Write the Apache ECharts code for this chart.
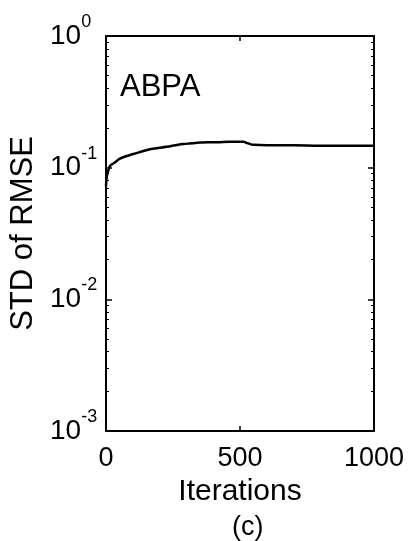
<!DOCTYPE html>
<html>
<head>
<meta charset="utf-8">
<script src="https://cdn.jsdelivr.net/npm/echarts@6/dist/echarts.min.js"></script>
<style>
  html, body { margin: 0; padding: 0; background: #fff; }
  #main { width: 413px; height: 541px; }
</style>
</head>
<body>
<div id="main"></div>
<script>
// curve
const iterations = [0, 2, 5, 10, 15, 25, 34, 52, 75, 102, 130, 164, 195, 226, 260, 288, 320, 351, 380, 413, 460, 512, 530, 550, 600, 700, 800, 900, 1000];
const stdRmse = [0.072, 0.082, 0.090, 0.097, 0.103, 0.107, 0.110, 0.117, 0.122, 0.127, 0.132, 0.138, 0.141, 0.144, 0.148, 0.151, 0.153, 0.155, 0.156, 0.156, 0.157, 0.157, 0.153, 0.149, 0.148, 0.148, 0.147, 0.147, 0.147];
const xTicks = [0, 500, 1000];
const yDecades = [0.001, 0.01, 0.1, 1];
const panelLabel = 'ABPA';
const panelTag = '(c)';

// log minor ticks 2..9 of every decade
let minorTicks = [];
for (let d = 0; d < yDecades.length - 1; d++) {
  for (let m = 2; m <= 9; m++) {
    minorTicks.push(+(yDecades[d] * m).toPrecision(3));
  }
}

const FONT = 'Liberation Sans';
const black = '#000';

let chart = echarts.init(document.getElementById('main'), null, { renderer: 'canvas' });

function xAxisBase(pos) {
  return {
    type: 'value',
    position: pos,
    min: 0,
    max: 1000,
    interval: 500,
    axisLine: { onZero: false, lineStyle: { color: black, width: 2 } },
    axisTick: { inside: true, length: 5, lineStyle: { color: black, width: 1.5 } },
    splitLine: { show: false }
  };
}

function yAxisBase(pos) {
  return {
    type: 'log',
    logBase: 10,
    position: pos,
    min: 0.001,
    max: 1,
    axisLine: { onZero: false, lineStyle: { color: black, width: 2 } },
    axisTick: { inside: true, length: 6, lineStyle: { color: black, width: 1.5 } },
    splitLine: { show: false }
  };
}

let xBottom = xAxisBase('bottom');
xBottom.name = 'Iterations';
xBottom.nameLocation = 'middle';
xBottom.nameGap = 46;
xBottom.nameTextStyle = { fontFamily: FONT, fontSize: 30, color: black };
xBottom.axisLabel = {
  fontFamily: FONT, fontSize: 27, color: black, margin: 14,
  formatter: v => String(v)
};

let xTop = xAxisBase('top');
xTop.axisLabel = { show: false };

let yLeft = yAxisBase('left');
yLeft.name = 'STD of RMSE';
yLeft.nameLocation = 'middle';
yLeft.nameGap = 57;
yLeft.nameTextStyle = { fontFamily: FONT, fontSize: 31, color: black };
yLeft.axisLabel = {
  align: 'left',
  margin: 56,
  formatter: function (v) {
    let e = Math.round(Math.log10(v));
    return '{b|10}{e|' + e + '}';
  },
  rich: {
    b: { fontFamily: FONT, fontSize: 28, lineHeight: 46, color: black },
    e: { fontFamily: FONT, fontSize: 18, lineHeight: 18, verticalAlign: 'top', color: black }
  }
};

let yRight = yAxisBase('right');
yRight.axisLabel = { show: false };

// minor ticks, both sides
let yMinorL = yAxisBase('left');
yMinorL.axisLine = { show: false, onZero: false };
yMinorL.axisLabel = { show: false };
yMinorL.axisTick = { inside: true, length: 3, customValues: minorTicks, lineStyle: { color: black, width: 1 } };
let yMinorR = yAxisBase('right');
yMinorR.axisLine = { show: false, onZero: false };
yMinorR.axisLabel = { show: false };
yMinorR.axisTick = { inside: true, length: 3, customValues: minorTicks, lineStyle: { color: black, width: 1 } };

let option = {
  backgroundColor: '#fff',
  animation: false,
  grid: { left: 106, right: 39, top: 36, bottom: 110 },
  textStyle: { fontFamily: FONT, color: black },
  xAxis: [xBottom, xTop],
  yAxis: [yLeft, yRight, yMinorL, yMinorR],
  graphic: [{
    type: 'text',
    left: 120,
    top: 72,
    style: { text: panelLabel, fontFamily: FONT, fontSize: 31, fill: black }
  }, {
    type: 'text',
    left: 232,
    top: 514,
    style: { text: panelTag, fontFamily: FONT, fontSize: 27, fill: black }
  }],
  series: [{
    type: 'line',
    xAxisIndex: 0,
    yAxisIndex: 0,
    showSymbol: false,
    smooth: true,
    lineStyle: { color: black, width: 2.5 },
    data: iterations.map((it, i) => [it, stdRmse[i]])
  }]
};

chart.setOption(option);
</script>
</body>
</html>
